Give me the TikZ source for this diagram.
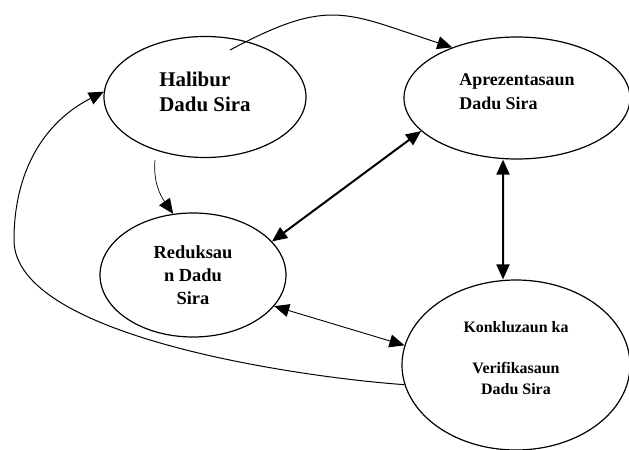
\documentclass[tikz,border=0pt]{standalone}
\usepackage{fontspec}
\setmainfont{Liberation Serif}
\usetikzlibrary{arrows.meta,shapes.geometric}

\begin{document}
\begin{tikzpicture}[>={Triangle[length=15bp,width=13bp]}, font=\bfseries]

        \tikzstyle{phase} = [ellipse, draw, line width=1.2bp, inner sep=0pt]
        \tikzstyle{link} = [->, line width=1bp]
        \tikzstyle{boldlink} = [<->, line width=2bp]

        \useasboundingbox (-205bp,-353bp) rectangle (424bp,97bp);

        \node [phase, minimum width=202bp, minimum height=121bp, align=left, text depth=10bp, font=\bfseries\fontsize{21}{25}\selectfont] (hal) {Halibur\\Dadu Sira};
        \node [phase, node distance=312bp, right of=hal, yshift=-1bp, minimum width=226bp, minimum height=122bp, align=left, text depth=12bp, font=\bfseries\fontsize{18}{24}\selectfont] (apr) {Aprezentasaun\\Dadu Sira};
        \node [phase, node distance=178bp, below of=hal, xshift=-12bp, minimum width=186bp, minimum height=124bp, align=center, font=\bfseries\fontsize{18.5}{23}\selectfont] (red) {Reduksau\\n Dadu\\Sira};
        \node [phase, node distance=267bp, below of=apr, xshift=-1bp, minimum width=228bp, minimum height=170bp, align=center, text depth=14bp, font=\bfseries\fontsize{16}{20.5}\selectfont] (kon) {Konkluzaun ka\\[20.5bp]Verifikasaun\\Dadu Sira};

        \draw [link] ([xshift=25bp,yshift=47bp]hal.center) to[out=28, in=162, looseness=1.3] (apr.142);
        \draw [link, line width=0.7bp] ([xshift=-50bp,yshift=-2bp]hal.south) to[out=-95, in=125] (red.108);
        \draw [boldlink] (red.23) -- (apr.199);
        \draw [boldlink] ([xshift=-14bp]apr.south) -- ([xshift=-13bp]kon.north);
        \draw [<->, line width=0.9bp] (red.-21) -- (kon.170);

        \coordinate [node distance=179bp, left of=red, yshift=35bp] (bend);
        \draw [link] (kon.190) to[out=176, in=-90, looseness=0.6] (bend) to[out=90, in=207] (hal.177);

    \end{tikzpicture}
\end{document}
